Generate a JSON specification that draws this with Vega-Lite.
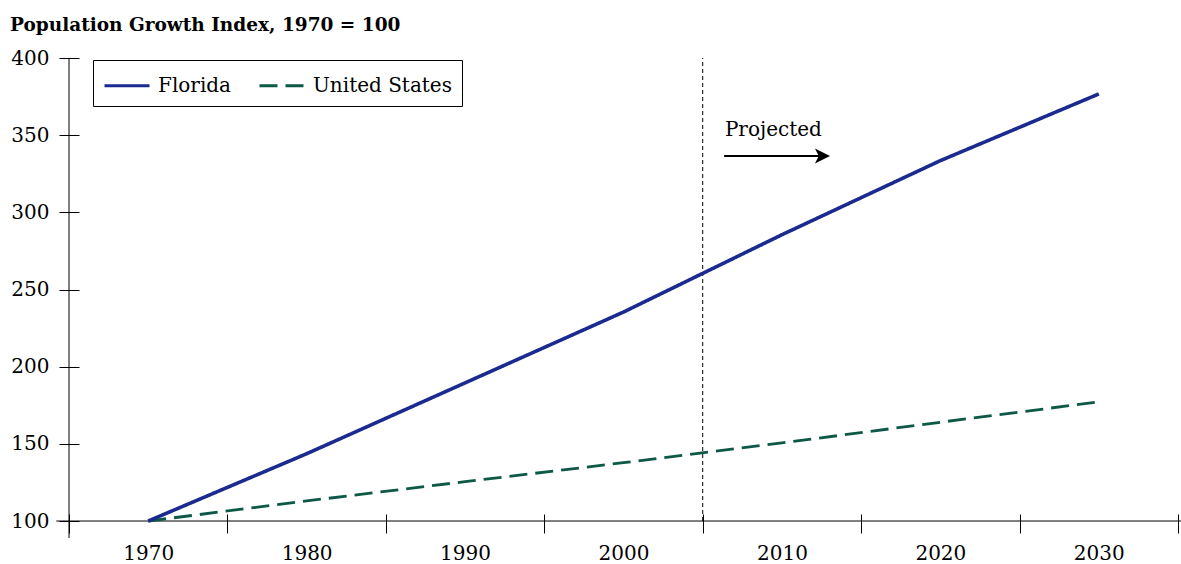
{
  "$schema": "https://vega.github.io/schema/vega-lite/v6.json",
  "width": 1109,
  "height": 480,
  "autosize": {"type": "none"},
  "padding": {"left": 69, "top": 58, "right": 3, "bottom": 26},
  "background": "white",
  "title": {
    "text": "Population Growth Index, 1970 = 100",
    "anchor": "start",
    "frame": "group",
    "dx": -59,
    "dy": 18,
    "baseline": "alphabetic",
    "offset": 17,
    "font": "DejaVu Serif",
    "fontSize": 18.5,
    "fontWeight": "bold",
    "color": "black"
  },
  "config": {
    "view": {"stroke": null},
    "legend": {
      "orient": "none",
      "legendX": 24,
      "legendY": 2,
      "direction": "horizontal",
      "strokeColor": "black",
      "fillColor": "white",
      "padding": 10,
      "symbolType": "M -1 0 H 2.214",
      "symbolSize": 784,
      "symbolStrokeWidth": 3,
      "labelFont": "DejaVu Serif",
      "labelFontSize": 20,
      "labelColor": "black",
      "labelOffset": 24,
      "columnPadding": 22,
      "cornerRadius": 0
    }
  },
  "datasets": {
    "pop": [
      {"year": 1970, "series": "Florida", "value": 100},
      {"year": 1980, "series": "Florida", "value": 143.6},
      {"year": 1990, "series": "Florida", "value": 189.5},
      {"year": 2000, "series": "Florida", "value": 235.4},
      {"year": 2010, "series": "Florida", "value": 285.5},
      {"year": 2020, "series": "Florida", "value": 333.5},
      {"year": 2030, "series": "Florida", "value": 376.7},
      {"year": 1970, "series": "United States", "value": 100},
      {"year": 1980, "series": "United States", "value": 113},
      {"year": 1990, "series": "United States", "value": 125.5},
      {"year": 2000, "series": "United States", "value": 137.8},
      {"year": 2010, "series": "United States", "value": 150.6},
      {"year": 2020, "series": "United States", "value": 164},
      {"year": 2030, "series": "United States", "value": 177.2}
    ],
    "one": [{"note": "Projected"}]
  },
  "layer": [
    {
      "data": {"name": "one"},
      "mark": {"type": "rule", "color": "black", "strokeWidth": 1},
      "encoding": {
        "x": {"datum": 1965, "type": "quantitative"}
      }
    },
    {
      "data": {"name": "one"},
      "mark": {"type": "rule", "color": "black", "strokeWidth": 1, "clip": false},
      "encoding": {
        "x": {"datum": 1964.2, "type": "quantitative"},
        "x2": {"datum": 2035.2},
        "y": {"datum": 100, "type": "quantitative"}
      }
    },
    {
      "data": {"name": "one"},
      "mark": {"type": "rule", "color": "black", "strokeWidth": 1, "strokeDash": [4, 3]},
      "encoding": {
        "x": {"datum": 2005, "type": "quantitative"},
        "y": {"datum": 100, "type": "quantitative"},
        "y2": {"datum": 400}
      }
    },
    {
      "data": {"name": "pop"},
      "transform": [{"filter": "datum.series === 'United States'"}],
      "mark": {"type": "line", "strokeWidth": 2.8},
      "encoding": {
        "x": {"field": "year", "type": "quantitative"},
        "y": {"field": "value", "type": "quantitative"},
        "color": {"field": "series", "type": "nominal", "title": null,
          "scale": {"domain": ["Florida", "United States"], "range": ["#1b2a8f", "#0d5847"]}},
        "strokeDash": {"field": "series", "type": "nominal", "title": null,
          "scale": {"domain": ["Florida", "United States"], "range": [[1, 0], [18, 8]]}}
      }
    },
    {
      "data": {"name": "pop"},
      "transform": [{"filter": "datum.series === 'Florida'"}],
      "mark": {"type": "line", "strokeWidth": 3.6},
      "encoding": {
        "x": {
          "field": "year",
          "type": "quantitative",
          "scale": {"domain": [1965, 2035], "nice": false, "zero": false},
          "axis": {
            "title": null,
            "values": [1965, 1970, 1975, 1980, 1985, 1990, 1995, 2000, 2005, 2010, 2015, 2020, 2025, 2030, 2035],
            "format": "d",
            "labelExpr": "datum.value % 10 == 0 ? datum.label : ''",
            "tickSize": 19,
            "tickOpacity": {"condition": {"test": "datum.value % 10 == 5", "value": 1}, "value": 0},
            "tickColor": "black",
            "tickWidth": 1,
            "domain": false,
            "grid": false,
            "offset": -24,
            "labelPadding": 10,
            "labelFont": "DejaVu Serif",
            "labelFontSize": 20,
            "labelColor": "black",
            "labelOverlap": false,
            "labelFlush": false,
            "labelBound": false
          }
        },
        "y": {
          "field": "value",
          "type": "quantitative",
          "scale": {"domain": [89, 400], "nice": false, "zero": false},
          "axis": {
            "title": null,
            "values": [100, 150, 200, 250, 300, 350, 400],
            "tickSize": 20,
            "tickColor": "black",
            "tickWidth": 1,
            "domain": false,
            "grid": false,
            "offset": -10,
            "labelPadding": 10,
            "labelFont": "DejaVu Serif",
            "labelFontSize": 20,
            "labelColor": "black",
            "labelOverlap": false,
            "labelFlush": false,
            "labelBound": false
          }
        },
        "color": {"field": "series", "type": "nominal", "title": null,
          "scale": {"domain": ["Florida", "United States"], "range": ["#1b2a8f", "#0d5847"]}},
        "strokeDash": {"field": "series", "type": "nominal", "title": null,
          "scale": {"domain": ["Florida", "United States"], "range": [[1, 0], [18, 8]]}}
      }
    },
    {
      "data": {"name": "one"},
      "mark": {"type": "rule", "color": "black", "strokeWidth": 2},
      "encoding": {
        "x": {"datum": 2006.35, "type": "quantitative"},
        "x2": {"datum": 2012.5},
        "y": {"datum": 336.5, "type": "quantitative"}
      }
    },
    {
      "data": {"name": "one"},
      "mark": {"type": "point", "shape": "M 1 0 L -1 -1 L -0.5 0 L -1 1 Z", "filled": true, "color": "black", "opacity": 1, "size": 225, "strokeWidth": 0},
      "encoding": {
        "x": {"datum": 2012.56, "type": "quantitative"},
        "y": {"datum": 336.5, "type": "quantitative"}
      }
    },
    {
      "data": {"name": "one"},
      "mark": {"type": "text", "align": "left", "baseline": "middle", "font": "DejaVu Serif", "fontSize": 20, "color": "black"},
      "encoding": {
        "text": {"field": "note"},
        "x": {"datum": 2006.4, "type": "quantitative"},
        "y": {"datum": 353.4, "type": "quantitative"}
      }
    }
  ]
}
